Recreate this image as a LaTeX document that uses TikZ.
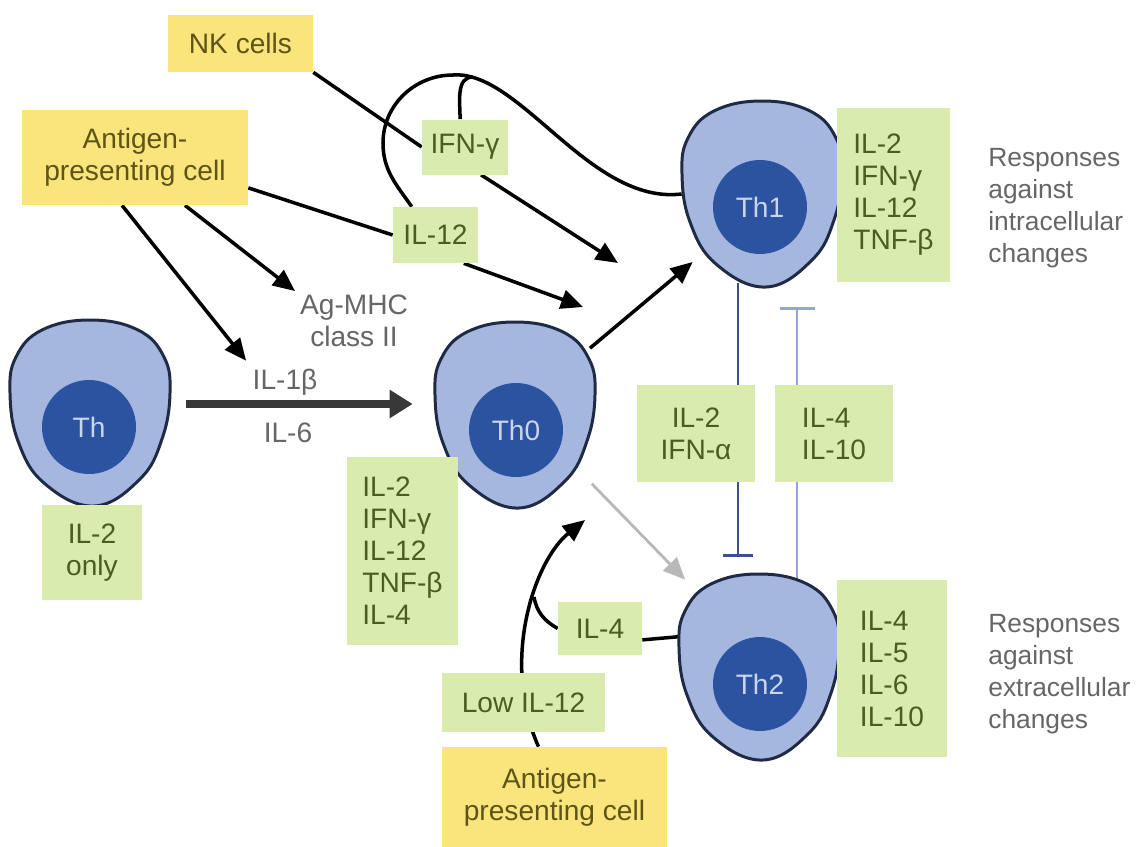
\documentclass[tikz,border=0pt]{standalone}
\usepackage{fontspec}
\setmainfont{Liberation Sans}
\usepackage{tikz}
\usetikzlibrary{positioning,calc,arrows.meta,shapes.geometric,backgrounds}
\definecolor{CellBlue}{HTML}{A5B6DF}
\definecolor{CellEdge}{HTML}{1F2A44}
\definecolor{NucBlue}{HTML}{2B53A0}
\definecolor{NucText}{HTML}{CAD4EC}
\definecolor{CytoGreen}{HTML}{D9EBAD}
\definecolor{CytoText}{HTML}{4A5E22}
\definecolor{ApcYellow}{HTML}{F9E57B}
\definecolor{ApcText}{HTML}{5E5418}
\definecolor{LblGray}{HTML}{666666}
\definecolor{InhDark}{HTML}{3E4F8F}
\definecolor{InhLight}{HTML}{95A3D6}
\definecolor{ArrGray}{HTML}{B8B8B8}
\tikzset{
  apcbox/.style={fill=ApcYellow,text=ApcText,align=center,inner sep=0pt},
  cytobox/.style={fill=CytoGreen,text=CytoText,align=center,inner sep=0pt},
  lbl/.style={text=LblGray,align=center,inner sep=0pt},
  cellbody/.style={ellipse,minimum width=3.2cm,minimum height=3.72cm,inner sep=0pt},
  nucleus/.style={circle,fill=NucBlue,text=NucText,minimum size=1.88cm,inner sep=0pt},
  link/.style={line width=2pt,black},
  arr/.style={link,-{Triangle[length=0.44cm,width=0.38cm]}},
  inhib/.style={line width=1.4pt}
}

\begin{document}
\begin{tikzpicture}[x=0.02cm,y=-0.02cm,font=\fontsize{16}{18.2}\selectfont]
\useasboundingbox (0,0) rectangle (1137,846);
% cells
\foreach \n/\x/\y in {thb/90/413, th0b/515/415, th1b/762/194, th2b/759/667} {
  \node[cellbody] (\n) at (\x,\y) {};
  \filldraw[fill=CellBlue,draw=CellEdge,line width=1.7pt,shift={(\x,\y)}]
    plot[smooth cycle,tension=0.7] coordinates {(0,-93) (48,-83) (74,-56) (80,-20) (72,26) (50,66) (4,93) (-46,70) (-72,28) (-80,-20) (-74,-56) (-48,-83)};
}
\foreach \n/\x/\y/\lbl in {th/89/427/Th, th0/516/430/Th0, th1/760/207/Th1, th2/760/684/Th2}
  \node[nucleus] (\n) at (\x,\y) {\lbl};

\node[apcbox,minimum width=2.9cm,minimum height=1.14cm] (nk) at (240.5,43.5) {NK cells};
\node[apcbox,minimum width=4.52cm,minimum height=1.9cm] (apc1) at (135,157.5) {Antigen-\\presenting cell};
\node[apcbox,minimum width=4.5cm,minimum height=2.0cm] (apc2) at (554.5,797) {Antigen-\\presenting cell};

\node[cytobox,minimum width=1.72cm,minimum height=1.1cm] (ifng) at (465,147) {IFN-γ};
\node[cytobox,minimum width=1.7cm,minimum height=1.12cm] (il12a) at (435.5,235) {IL-12};
\node[cytobox,align=left,minimum width=2.26cm,minimum height=3.48cm] (th1cyto) at (893.5,195) {IL-2\\IFN-γ\\IL-12\\TNF-β};
\node[cytobox,align=left,minimum width=2.2cm,minimum height=3.54cm] (th2cyto) at (892,668.5) {IL-4\\IL-5\\IL-6\\IL-10};
\node[cytobox,align=left,minimum width=2.22cm,minimum height=3.76cm] (th0cyto) at (402.5,551) {IL-2\\IFN-γ\\IL-12\\TNF-β\\IL-4};
\node[cytobox,minimum width=2cm,minimum height=1.9cm] (thcyto) at (92,552.5) {IL-2\\only};
\node[cytobox,minimum width=2.36cm,minimum height=1.94cm] (il2ifna) at (696,433.5) {IL-2\\IFN-α};
\node[cytobox,align=left,minimum width=2.36cm,minimum height=1.94cm] (il4il10) at (834,433.5) {IL-4\\IL-10};
\node[cytobox,minimum width=1.68cm,minimum height=1.06cm] (il4) at (600,628.5) {IL-4};
\node[cytobox,minimum width=3.26cm,minimum height=1.18cm] (lowil12) at (523.5,702.5) {Low IL-12};

\node[lbl] (agmhc) at (354,321) {Ag-MHC\\class II};
\node[lbl] (il1b) at (285,382) {IL-1β};
\node[lbl] (il6) at (288,433) {IL-6};
\node[lbl,align=left,anchor=west,font=\fontsize{15}{18.2}\selectfont] (resp1) at (988,208) {Responses\\against\\intracellular\\changes};
\node[lbl,align=left,anchor=west,font=\fontsize{15}{18.2}\selectfont] (resp2) at (988,674) {Responses\\against\\extracellular\\changes};

\coordinate (ifngtip) at (618,263);
\coordinate (il12tip) at (583,307);
\coordinate (lowtip) at (585,520);
\coordinate (looptop) at (453,75);
\coordinate (loopleft) at (383,143);
\coordinate (ifngjoin) at (473,77);
\coordinate (il4join) at (534,597);

\begin{scope}[on background layer]
\draw[link] (nk.south east) -- (ifng.west);
\draw[link] (apc1.-15) -- (il12a.west);
\draw[arr,shorten >=0.12cm] ([xshift=1cm]apc1.south) -- (agmhc.north west);
\draw[arr,shorten >=0.2cm] ([xshift=-0.26cm]apc1.south) -- (il1b.north west);
\draw[arr] (ifng.-60) -- (ifngtip);
\draw[arr] (il12a.-45) -- (il12tip);
\draw[link,draw=black!78,line width=4.5pt,-{Triangle[length=0.46cm,width=0.54cm]}] ($(thb.east)+(16,-9)$) -- ($(th0b.west)+(-22,-11)$);
\draw[arr,shorten <=0.3cm,shorten >=0.22cm] (th0b.42) -- (th1b.225);
\draw[arr,ArrGray,line width=1.6pt,shorten <=0.36cm,shorten >=0.54cm] (th0b.-41.5) -- (th2b.129);
% IFN-gamma loop back from Th1
\draw[link] (th1b.west) .. controls (590,205) and (520,70) .. (looptop) to[out=180,in=90] (loopleft) to[out=-90,in=125] (il12a.130);
\draw[link] (ifng.100) to[out=90,in=180] (ifngjoin);
% low IL-12 / IL-4 route to Th0
\draw[arr] ($(apc2.north)+(-16,0)$) .. controls (500,660) and (535,560) .. (lowtip);
\draw[link] (il4.west) to[out=150,in=-80] (il4join);
\draw[link] (il4.-15) -- (th2b.158);
% cross inhibition
\draw[inhib,InhDark,-{Bar[width=0.6cm]},shorten >=0.34cm] (th1b.-105) -- (th1b.-105 |- th2b.north);
\draw[inhib,InhLight,-{Bar[width=0.7cm]},shorten >=0.4cm] (th2b.65) -- (th2b.65 |- th1b.south);
\end{scope}
\end{tikzpicture}
\end{document}
